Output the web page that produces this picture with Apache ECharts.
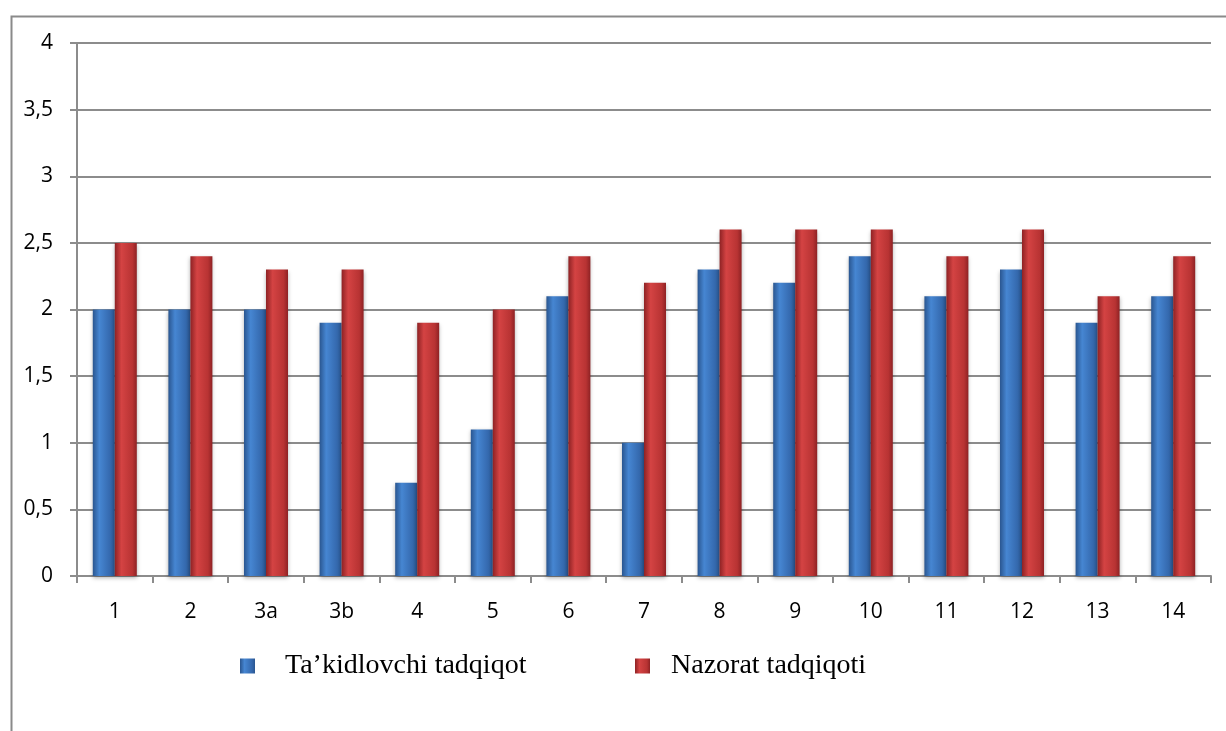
<!DOCTYPE html>
<html>
<head>
<meta charset="utf-8">
<script src="https://cdn.jsdelivr.net/npm/echarts@6/dist/echarts.min.js"></script>
<style>
  html, body { margin: 0; padding: 0; background: #fff; }
  #chart { width: 1226px; height: 731px; }
</style>
</head>
<body>
<div id="chart"></div>
<script>
const categories = ['1', '2', '3a', '3b', '4', '5', '6', '7', '8', '9', '10', '11', '12', '13', '14'];
const takidlovchi = [2.0, 2.0, 2.0, 1.9, 0.7, 1.1, 2.1, 1.0, 2.3, 2.2, 2.4, 2.1, 2.3, 1.9, 2.1];
const nazorat = [2.5, 2.4, 2.3, 2.3, 1.9, 2.0, 2.4, 2.2, 2.6, 2.6, 2.6, 2.4, 2.6, 2.1, 2.4];
const seriesNames = ['Ta’kidlovchi tadqiqot', 'Nazorat tadqiqoti'];

var chartDom = document.getElementById('chart');
var myChart = echarts.init(chartDom);

// horizontal shading like the glossy office bars
function barFill(dark, light, edge) {
    return new echarts.graphic.LinearGradient(0, 0, 1, 0, [
        {offset: 0, color: edge},
        {offset: 0.3, color: light},
        {offset: 0.8, color: dark},
        {offset: 1, color: edge}
    ]);
}

const legendText = {
    fontFamily: 'Liberation Serif',
    fontSize: 28,
    color: '#000'
};

var option = {
    backgroundColor: '#fff',
    animation: false,
    graphic: [{
        type: 'rect',
        left: 9,
        top: 14,
        shape: {width: 1260, height: 760},
        style: {fill: 'none', stroke: '#8a8a8a', lineWidth: 2},
        silent: true
    }],
    legend: [
        {
            left: 240,
            top: 652,
            padding: 0,
            itemWidth: 15,
            itemHeight: 15,
            icon: 'rect',
            textStyle: Object.assign({padding: [12, 0, 0, 25]}, legendText),
            data: [seriesNames[0]]
        },
        {
            left: 635,
            top: 652,
            padding: 0,
            itemWidth: 15,
            itemHeight: 15,
            icon: 'rect',
            textStyle: Object.assign({padding: [12, 0, 0, 16]}, legendText),
            data: [seriesNames[1]]
        }
    ],
    grid: {
        left: 77,
        right: 15,
        top: 43,
        bottom: 155
    },
    xAxis: {
        type: 'category',
        data: categories,
        axisLine: {lineStyle: {color: '#8c8c8c', width: 2}},
        axisTick: {show: true, length: 7, lineStyle: {color: '#8c8c8c', width: 2}},
        axisLabel: {
            color: '#000',
            fontSize: 21,
            fontFamily: 'Open Sans',
            margin: 26
        }
    },
    yAxis: {
        type: 'value',
        min: 0,
        max: 4,
        interval: 0.5,
        axisLine: {show: true, lineStyle: {color: '#8c8c8c', width: 2}},
        axisTick: {show: true, length: 7, lineStyle: {color: '#8c8c8c', width: 2}},
        splitLine: {lineStyle: {color: '#8c8c8c', width: 2}},
        axisLabel: {
            color: '#000',
            fontSize: 21,
            fontFamily: 'Open Sans',
            margin: 24,
            formatter: v => String(v).replace('.', ',')
        }
    },
    series: [
        {
            name: seriesNames[0],
            type: 'bar',
            data: takidlovchi,
            barWidth: 22,
            barGap: '0%',
            color: '#3a70bb',
            itemStyle: {
                color: barFill('#3468ad', '#4686d2', '#2a5690'),
                shadowColor: 'rgba(0,0,0,0.3)',
                shadowBlur: 4,
                shadowOffsetY: 2
            }
        },
        {
            name: seriesNames[1],
            type: 'bar',
            data: nazorat,
            barWidth: 22,
            color: '#c23a3c',
            itemStyle: {
                color: barFill('#b83333', '#d44343', '#8e2224'),
                shadowColor: 'rgba(0,0,0,0.3)',
                shadowBlur: 4,
                shadowOffsetY: 2
            }
        }
    ]
};

option && myChart.setOption(option);
</script>
</body>
</html>
